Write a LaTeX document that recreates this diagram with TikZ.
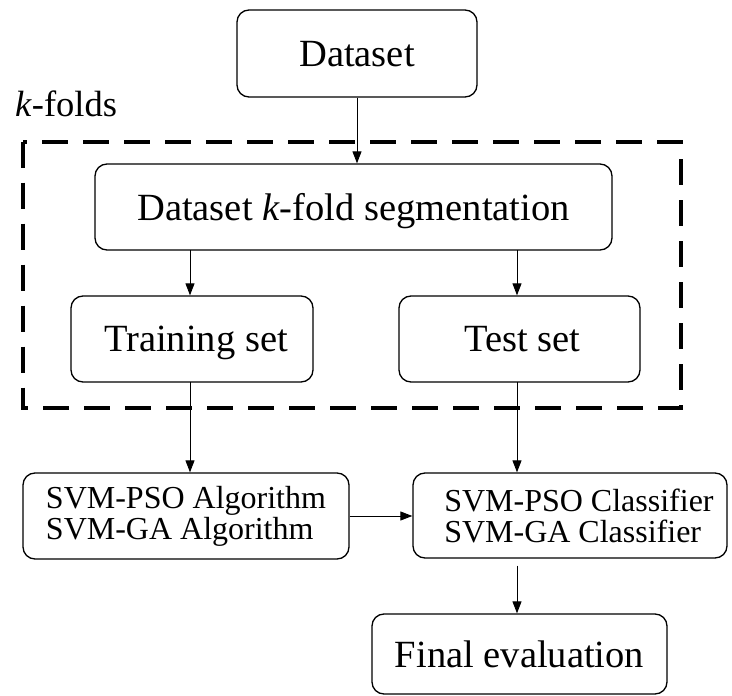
\documentclass[tikz,border=0pt]{standalone}
\usepackage{fontspec}
\setmainfont{Liberation Serif}
\usetikzlibrary{arrows.meta}
\begin{document}
\begin{tikzpicture}[x=1pt,y=-1pt,
  box/.style={draw, line width=1.3pt, rounded corners=12pt, inner sep=0pt, align=center},
  big/.style={font=\fontsize{38.5}{44}\selectfont, text depth=0pt},
  small/.style={font=\fontsize{32}{31}\selectfont, align=left},
  arr/.style={draw, line width=0.9pt, -{Triangle[length=12pt,width=9pt]}}]
\useasboundingbox (0,0) rectangle (732,696);
\node[box, big, minimum width=240pt, minimum height=87pt] (ds) at (357,53.5) {Dataset};
\node[anchor=base west, font=\fontsize{36.5}{43}\selectfont, inner sep=0pt] (kf) at (15,116) {\textit{k}-folds};
\draw[line width=4pt, dash pattern=on 26pt off 15pt] (22.7,141.7) rectangle (681,408);
\node[box, big, minimum width=517pt, minimum height=86pt] (seg) at (353.5,207) {Dataset \textit{k}-fold segmentation};
\node[box, big, minimum width=242pt, minimum height=86pt] (tr) at (192,339) {\hspace*{8pt}Training set};
\node[box, big, minimum width=241pt, minimum height=86pt] (te) at (519.5,339) {\hspace*{6pt}Test set};
\node[box, small, minimum width=326pt, minimum height=86pt] (svm) at (186,516) {SVM-PSO Algorithm\\SVM-GA Algorithm};
\node[box, small, minimum width=314pt, minimum height=85pt] (cls) at (570,515.5) {\hspace*{18pt}SVM-PSO Classifier\\\hspace*{18pt}SVM-GA Classifier};
\node[box, big, minimum width=295pt, minimum height=80pt] (fin) at (519.5,654) {Final evaluation};
\coordinate (segL) at (190,250);
\coordinate (trB) at (190,382);
\coordinate (segR) at (517,250);
\coordinate (teB) at (517,382);
\draw[arr] (ds.south) -- (seg.north -| ds.south);
\draw[arr] (segL) -- (segL |- tr.north);
\draw[arr] (segR) -- (segR |- te.north);
\draw[arr] (trB) -- (trB |- svm.north);
\draw[arr] (teB) -- (teB |- cls.north);
\draw[arr] (svm.east) -- (cls.west |- svm.east);
\draw[arr, shorten <=7pt] (cls.south -| teB) -- (fin.north -| teB);
\end{tikzpicture}
\end{document}
